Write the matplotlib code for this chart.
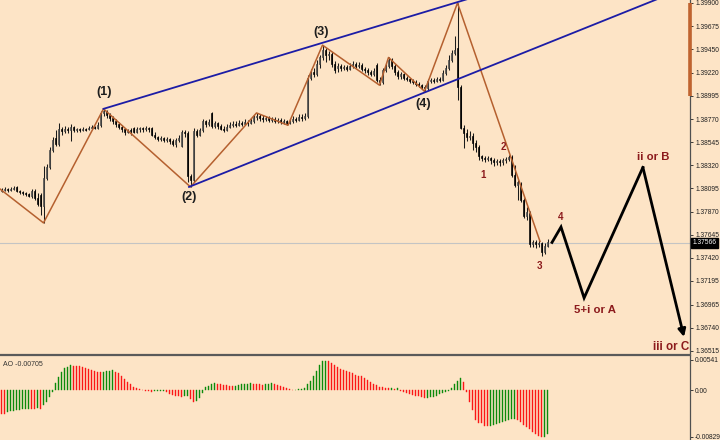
import numpy as np
import matplotlib
matplotlib.use("Agg")
import matplotlib.pyplot as plt

# hourly candles
opens = [
    1.3807, 1.3808, 1.3809, 1.3808, 1.3809, 1.3811, 1.3807, 1.3806, 1.3805, 1.3804,
    1.3802, 1.3807, 1.3800, 1.3803, 1.3792, 1.3820, 1.3830, 1.3847, 1.3859, 1.3853,
    1.3867, 1.3865, 1.3867, 1.3866, 1.3869, 1.3866, 1.3867, 1.3866, 1.3867, 1.3867,
    1.3868, 1.3869, 1.3868, 1.3871, 1.3883, 1.3885, 1.3881, 1.3878, 1.3875, 1.3872,
    1.3869, 1.3867, 1.3864, 1.3866, 1.3868, 1.3864, 1.3867, 1.3868, 1.3867, 1.3868,
    1.3868, 1.3862, 1.3860, 1.3858, 1.3859, 1.3857, 1.3858, 1.3856, 1.3853, 1.3857,
    1.3851, 1.3864, 1.3863, 1.3822, 1.3818, 1.3865, 1.3862, 1.3866, 1.3875, 1.3872,
    1.3883, 1.3870, 1.3873, 1.3870, 1.3867, 1.3866, 1.3869, 1.3871, 1.3872, 1.3871,
    1.3873, 1.3872, 1.3874, 1.3873, 1.3875, 1.3879, 1.3880, 1.3878, 1.3877, 1.3878,
    1.3876, 1.3877, 1.3875, 1.3876, 1.3874, 1.3875, 1.3873, 1.3875, 1.3877, 1.3876,
    1.3879, 1.3878, 1.3880, 1.3917, 1.3923, 1.3921, 1.3931, 1.3937, 1.3944, 1.3939,
    1.3940, 1.3931, 1.3927, 1.3929, 1.3927, 1.3928, 1.3926, 1.3929, 1.3931, 1.3929,
    1.3930, 1.3926, 1.3925, 1.3923, 1.3921, 1.3930, 1.3915, 1.3913, 1.3925, 1.3929,
    1.3935, 1.3929, 1.3923, 1.3919, 1.3921, 1.3917, 1.3916, 1.3914, 1.3913, 1.3911,
    1.3910, 1.3908, 1.3907, 1.3914, 1.3915, 1.3914, 1.3916, 1.3915, 1.3922, 1.3927,
    1.3935, 1.3941, 1.3946, 1.3908, 1.3868, 1.3863, 1.3860, 1.3861, 1.3854, 1.3850,
    1.3841, 1.3839, 1.3838, 1.3839, 1.3837, 1.3835, 1.3836, 1.3835, 1.3837, 1.3838,
    1.3840, 1.3823, 1.3813, 1.3814, 1.3798, 1.3783, 1.3786, 1.3755, 1.3757, 1.3755,
    1.3756, 1.3748, 1.3754,
]
closes = [
    1.3808, 1.3809, 1.3808, 1.3809, 1.3810, 1.3807, 1.3806, 1.3805, 1.3804, 1.3802,
    1.3807, 1.3800, 1.3794, 1.3792, 1.3820, 1.3830, 1.3847, 1.3857, 1.3853, 1.3867,
    1.3865, 1.3867, 1.3866, 1.3869, 1.3866, 1.3867, 1.3866, 1.3867, 1.3866, 1.3868,
    1.3869, 1.3868, 1.3871, 1.3883, 1.3885, 1.3881, 1.3878, 1.3875, 1.3872, 1.3869,
    1.3867, 1.3864, 1.3866, 1.3865, 1.3864, 1.3867, 1.3868, 1.3867, 1.3868, 1.3867,
    1.3862, 1.3860, 1.3858, 1.3859, 1.3857, 1.3858, 1.3856, 1.3853, 1.3857, 1.3859,
    1.3864, 1.3863, 1.3822, 1.3818, 1.3865, 1.3862, 1.3866, 1.3875, 1.3872, 1.3874,
    1.3870, 1.3873, 1.3870, 1.3867, 1.3866, 1.3869, 1.3871, 1.3872, 1.3871, 1.3873,
    1.3872, 1.3874, 1.3873, 1.3875, 1.3879, 1.3880, 1.3878, 1.3877, 1.3878, 1.3876,
    1.3877, 1.3875, 1.3876, 1.3874, 1.3875, 1.3873, 1.3875, 1.3877, 1.3876, 1.3879,
    1.3878, 1.3880, 1.3917, 1.3923, 1.3921, 1.3931, 1.3937, 1.3944, 1.3939, 1.3940,
    1.3931, 1.3925, 1.3929, 1.3927, 1.3928, 1.3926, 1.3929, 1.3931, 1.3929, 1.3930,
    1.3926, 1.3925, 1.3923, 1.3921, 1.3924, 1.3915, 1.3913, 1.3925, 1.3929, 1.3935,
    1.3929, 1.3923, 1.3919, 1.3921, 1.3917, 1.3916, 1.3914, 1.3913, 1.3911, 1.3910,
    1.3908, 1.3907, 1.3914, 1.3915, 1.3914, 1.3916, 1.3915, 1.3922, 1.3927, 1.3935,
    1.3941, 1.3944, 1.3908, 1.3868, 1.3863, 1.3860, 1.3861, 1.3854, 1.3850, 1.3841,
    1.3839, 1.3838, 1.3839, 1.3837, 1.3835, 1.3836, 1.3835, 1.3837, 1.3838, 1.3840,
    1.3823, 1.3813, 1.3816, 1.3798, 1.3783, 1.3787, 1.3755, 1.3757, 1.3755, 1.3756,
    1.3748, 1.3754, 1.3757,
]
highs = [
    1.3810, 1.3811, 1.3810, 1.3811, 1.3812, 1.3812, 1.3808, 1.3807, 1.3806, 1.3805,
    1.3809, 1.3809, 1.3805, 1.3805, 1.3831, 1.3833, 1.3850, 1.3860, 1.3866, 1.3873,
    1.3869, 1.3870, 1.3869, 1.3872, 1.3870, 1.3868, 1.3868, 1.3869, 1.3868, 1.3870,
    1.3871, 1.3870, 1.3874, 1.3885, 1.3887, 1.3886, 1.3883, 1.3880, 1.3877, 1.3874,
    1.3871, 1.3868, 1.3867, 1.3868, 1.3869, 1.3869, 1.3869, 1.3869, 1.3870, 1.3869,
    1.3869, 1.3864, 1.3861, 1.3861, 1.3860, 1.3860, 1.3859, 1.3858, 1.3859, 1.3862,
    1.3866, 1.3866, 1.3865, 1.3824, 1.3868, 1.3867, 1.3868, 1.3877, 1.3876, 1.3877,
    1.3884, 1.3875, 1.3874, 1.3872, 1.3870, 1.3872, 1.3874, 1.3875, 1.3875, 1.3876,
    1.3875, 1.3877, 1.3876, 1.3878, 1.3881, 1.3883, 1.3882, 1.3881, 1.3880, 1.3880,
    1.3879, 1.3879, 1.3878, 1.3878, 1.3877, 1.3876, 1.3877, 1.3880, 1.3879, 1.3882,
    1.3882, 1.3883, 1.3920, 1.3926, 1.3927, 1.3935, 1.3939, 1.3949, 1.3946, 1.3943,
    1.3942, 1.3934, 1.3932, 1.3931, 1.3930, 1.3930, 1.3932, 1.3934, 1.3933, 1.3933,
    1.3932, 1.3928, 1.3927, 1.3925, 1.3927, 1.3932, 1.3918, 1.3927, 1.3932, 1.3937,
    1.3936, 1.3931, 1.3925, 1.3923, 1.3922, 1.3919, 1.3917, 1.3916, 1.3915, 1.3913,
    1.3911, 1.3910, 1.3916, 1.3917, 1.3917, 1.3918, 1.3918, 1.3925, 1.3930, 1.3939,
    1.3944, 1.3958, 1.3990, 1.3910, 1.3871, 1.3867, 1.3865, 1.3863, 1.3857, 1.3852,
    1.3842, 1.3841, 1.3841, 1.3840, 1.3839, 1.3838, 1.3838, 1.3839, 1.3840, 1.3842,
    1.3842, 1.3832, 1.3818, 1.3816, 1.3800, 1.3791, 1.3788, 1.3759, 1.3759, 1.3759,
    1.3757, 1.3756, 1.3760,
]
lows = [
    1.3806, 1.3807, 1.3806, 1.3807, 1.3808, 1.3806, 1.3804, 1.3803, 1.3802, 1.3801,
    1.3800, 1.3798, 1.3792, 1.3784, 1.3776, 1.3818, 1.3828, 1.3845, 1.3851, 1.3851,
    1.3862, 1.3863, 1.3863, 1.3856, 1.3864, 1.3864, 1.3864, 1.3865, 1.3865, 1.3866,
    1.3867, 1.3867, 1.3867, 1.3869, 1.3880, 1.3878, 1.3875, 1.3872, 1.3869, 1.3867,
    1.3864, 1.3862, 1.3863, 1.3862, 1.3863, 1.3863, 1.3864, 1.3864, 1.3865, 1.3864,
    1.3861, 1.3858, 1.3856, 1.3856, 1.3855, 1.3855, 1.3853, 1.3851, 1.3850, 1.3855,
    1.3850, 1.3860, 1.3816, 1.3811, 1.3816, 1.3860, 1.3861, 1.3864, 1.3869, 1.3870,
    1.3868, 1.3868, 1.3867, 1.3866, 1.3864, 1.3865, 1.3868, 1.3869, 1.3869, 1.3870,
    1.3870, 1.3871, 1.3870, 1.3872, 1.3873, 1.3876, 1.3875, 1.3874, 1.3875, 1.3874,
    1.3874, 1.3873, 1.3873, 1.3872, 1.3872, 1.3871, 1.3872, 1.3873, 1.3874, 1.3875,
    1.3875, 1.3876, 1.3878, 1.3915, 1.3918, 1.3919, 1.3927, 1.3935, 1.3933, 1.3935,
    1.3928, 1.3922, 1.3923, 1.3924, 1.3925, 1.3924, 1.3925, 1.3927, 1.3927, 1.3927,
    1.3924, 1.3922, 1.3920, 1.3919, 1.3919, 1.3913, 1.3910, 1.3911, 1.3923, 1.3927,
    1.3926, 1.3920, 1.3916, 1.3916, 1.3915, 1.3914, 1.3912, 1.3911, 1.3909, 1.3908,
    1.3906, 1.3904, 1.3905, 1.3912, 1.3912, 1.3913, 1.3913, 1.3914, 1.3920, 1.3925,
    1.3933, 1.3939, 1.3896, 1.3867, 1.3849, 1.3856, 1.3857, 1.3847, 1.3845, 1.3837,
    1.3836, 1.3835, 1.3836, 1.3833, 1.3831, 1.3832, 1.3831, 1.3832, 1.3834, 1.3836,
    1.3821, 1.3811, 1.3798, 1.3796, 1.3781, 1.3779, 1.3753, 1.3753, 1.3752, 1.3753,
    1.3744, 1.3746, 1.3753,
]

# Awesome Oscillator values
ao = [
    -0.00427, -0.00433, -0.00390, -0.00380, -0.00368, -0.00356, -0.00350, -0.00344, -0.00338, -0.00332,
    -0.00338, -0.00344, -0.00326, -0.00338, -0.00273, -0.00208, -0.00130, -0.00030, 0.00130, 0.00237,
    0.00326, 0.00385, 0.00415, 0.00439, 0.00433, 0.00427, 0.00421, 0.00409, 0.00397, 0.00380,
    0.00362, 0.00344, 0.00326, 0.00314, 0.00326, 0.00338, 0.00344, 0.00350, 0.00326, 0.00297,
    0.00249, 0.00196, 0.00148, 0.00107, 0.00059, 0.00030, 0.00012, -0.00006, -0.00018, -0.00024,
    -0.00030, -0.00024, -0.00022, -0.00018, -0.00016, -0.00042, -0.00065, -0.00083, -0.00101, -0.00113,
    -0.00119, -0.00107, -0.00101, -0.00154, -0.00213, -0.00202, -0.00148, -0.00059, 0.00059, 0.00077,
    0.00107, 0.00119, 0.00113, 0.00101, 0.00089, 0.00083, 0.00077, 0.00071, 0.00077, 0.00089,
    0.00101, 0.00107, 0.00113, 0.00119, 0.00113, 0.00107, 0.00101, 0.00095, 0.00101, 0.00107,
    0.00119, 0.00107, 0.00089, 0.00071, 0.00053, 0.00036, 0.00012, -0.00006, 0.00000, 0.00012,
    0.00024, 0.00042, 0.00101, 0.00166, 0.00249, 0.00344, 0.00445, 0.00510, 0.00522, 0.00510,
    0.00486, 0.00445, 0.00403, 0.00368, 0.00350, 0.00332, 0.00314, 0.00297, 0.00273, 0.00255,
    0.00243, 0.00219, 0.00184, 0.00148, 0.00113, 0.00083, 0.00059, 0.00047, 0.00036, 0.00029,
    0.00032, 0.00026, 0.00029, -0.00012, -0.00030, -0.00053, -0.00071, -0.00089, -0.00101, -0.00113,
    -0.00125, -0.00148, -0.00142, -0.00130, -0.00119, -0.00101, -0.00077, -0.00053, -0.00030, -0.00012,
    0.00042, 0.00101, 0.00160, 0.00208, 0.00136, -0.00042, -0.00208, -0.00356, -0.00534, -0.00581,
    -0.00593, -0.00635, -0.00640, -0.00635, -0.00629, -0.00611, -0.00593, -0.00575, -0.00557, -0.00540,
    -0.00522, -0.00516, -0.00534, -0.00575, -0.00617, -0.00658, -0.00700, -0.00741, -0.00783, -0.00818,
    -0.00842, -0.00830, -0.00789,
]

# Elliott wave pivots (bar index, price)
wave_x = [-0.5, 14, 34, 63, 85, 95.5, 107, 126, 129, 141, 152, 179.5]
wave_p = [1.3809, 1.3776, 1.3887, 1.3811, 1.3883, 1.3871, 1.3949, 1.3910, 1.3937, 1.3904, 1.3990, 1.3758]

# channel lines, two anchor points each
upper_x = [34, 165]
upper_p = [1.3887, 1.40023]
lower_x = [62.5, 230]
lower_p = [1.3811, 1.40071]

# projected path
proj_x = [183.5, 186.5, 194.2, 213.8, 227.5]
proj_p = [1.3757, 1.3772, 1.3703, 1.3830, 1.3665]

price_ticks = [1.39900, 1.39675, 1.39450, 1.39220, 1.38995, 1.38770, 1.38545, 1.38320,
               1.38095, 1.37870, 1.37645, 1.37420, 1.37195, 1.36965, 1.36740, 1.36515]
ao_ticks = [0.00541, 0.0, -0.00829]
last_price = 1.37566

BG = "#fde4c6"
WAVE = "#b5602f"
CHAN = "#1c1ca6"
LBL = "#8c1a1c"
FONT = ["Liberation Sans", "DejaVu Sans"]

fig = plt.figure(figsize=(7.2, 4.4), dpi=100, facecolor=BG)
ax = fig.add_axes([0, 87 / 440, 690 / 720, 353 / 440], facecolor=BG)
ax2 = fig.add_axes([0, 0, 690 / 720, 85 / 440], facecolor=BG)

o = np.array(opens)
c = np.array(closes)
h = np.array(highs)
l = np.array(lows)
idx = np.arange(len(c))
up = c >= o

ax.axhline(last_price, color="#c4c4c4", lw=0.8, zorder=1)
ax.vlines(idx, l, h, color="#1a1a1a", lw=0.75, zorder=2)
bottom = np.minimum(o, c)
height = np.maximum(np.abs(c - o), 0.00004)
ax.bar(idx[up], height[up], bottom=bottom[up], width=0.66, color="#b3b3b3",
       edgecolor="#2a2a2a", linewidth=0.45, zorder=3)
ax.bar(idx[~up], height[~up], bottom=bottom[~up], width=0.66, color="black",
       edgecolor="black", linewidth=0.45, zorder=3)

ax.plot(wave_x, wave_p, color=WAVE, lw=1.1, zorder=4)
ax.plot(upper_x, upper_p, color=CHAN, lw=1.3, zorder=4)
ax.plot(lower_x, lower_p, color=CHAN, lw=1.3, zorder=4)

ax.plot(proj_x[:-1], proj_p[:-1], color="black", lw=2.0, solid_joinstyle="miter", zorder=5)
ax.annotate("", xy=(proj_x[-1], proj_p[-1]), xytext=(proj_x[-2], proj_p[-2]),
            arrowprops=dict(arrowstyle="-|>", color="black", lw=2.0,
                            mutation_scale=11, shrinkA=0, shrinkB=0), zorder=5)

for txt, x, y in [("(1)", 34.2, 1.3903), ("(2)", 62.5, 1.3801), ("(3)", 106.5, 1.3962),
                  ("(4)", 140.5, 1.3892), ("(5)", 151.8, 1.4002)]:
    ax.text(x, y, txt, ha="center", va="center", fontsize=9, fontweight="bold",
            color="#1e1e1e", family=FONT, clip_on=True, zorder=6)

for txt, x, y, fs in [("1", 160.5, 1.3823, 7), ("2", 167.2, 1.3850, 7), ("3", 179.2, 1.3734, 7),
                      ("4", 186.5, 1.3782, 7), ("5+i or A", 197.8, 1.3691, 8.2),
                      ("ii or B", 217.2, 1.3840, 8.2), ("iii or C", 223.3, 1.3655, 8.4)]:
    ax.text(x, y, txt, ha="center", va="center", fontsize=fs, fontweight="bold",
            color=LBL, family=FONT, zorder=6)

ax.set_xlim(-0.5, 229.5)
ax.set_ylim(1.36494, 1.39929)

for a in (ax, ax2):
    for side in ("top", "left", "bottom"):
        a.spines[side].set_visible(False)
    a.spines["right"].set_color("#505050")
    a.spines["right"].set_linewidth(0.9)
    a.yaxis.tick_right()
    a.tick_params(axis="y", direction="out", length=2.5, width=0.6, pad=1.2,
                  colors="#202020", labelsize=4.8)
    a.set_xticks([])

ax.set_yticks(price_ticks)
ax.set_yticklabels([f"{v:.5f}" for v in price_ticks], family=FONT)

# price range mark on the axis
ax.plot([1.0, 1.0], [1.38995, 1.3990], transform=ax.get_yaxis_transform(),
        color="#c0632f", lw=2.6, clip_on=False, zorder=7, solid_capstyle="butt")
ax.text(1.004, last_price, f"{last_price:.5f}", transform=ax.get_yaxis_transform(),
        ha="left", va="center", fontsize=4.8, color="white", family=FONT,
        bbox=dict(boxstyle="square,pad=0.25", fc="black", ec="black"), clip_on=False, zorder=8)

# AO panel
aov = np.array(ao)
rising = np.diff(aov, prepend=aov[0]) > 0
ao_colors = np.where(rising, "#0b8a0b", "#fb1616")
ax2.bar(idx, aov, width=0.66, color=ao_colors, edgecolor=ao_colors, linewidth=0.3)
ax2.set_xlim(-0.5, 229.5)
ax2.set_ylim(-0.0089, 0.00623)
ax2.set_yticks(ao_ticks)
ax2.set_yticklabels(["0.00541", "0.00", "-0.00829"], family=FONT)
ax2.spines["top"].set_visible(True)
ax2.spines["top"].set_color("#5a5a5a")
ax2.spines["top"].set_linewidth(1.6)
ax2.text(0.004, 0.93, "AO -0.00705", transform=ax2.transAxes, ha="left", va="top",
         fontsize=5, color="#333333", family=FONT)

fig.savefig("out.png", dpi=100, facecolor=BG)
